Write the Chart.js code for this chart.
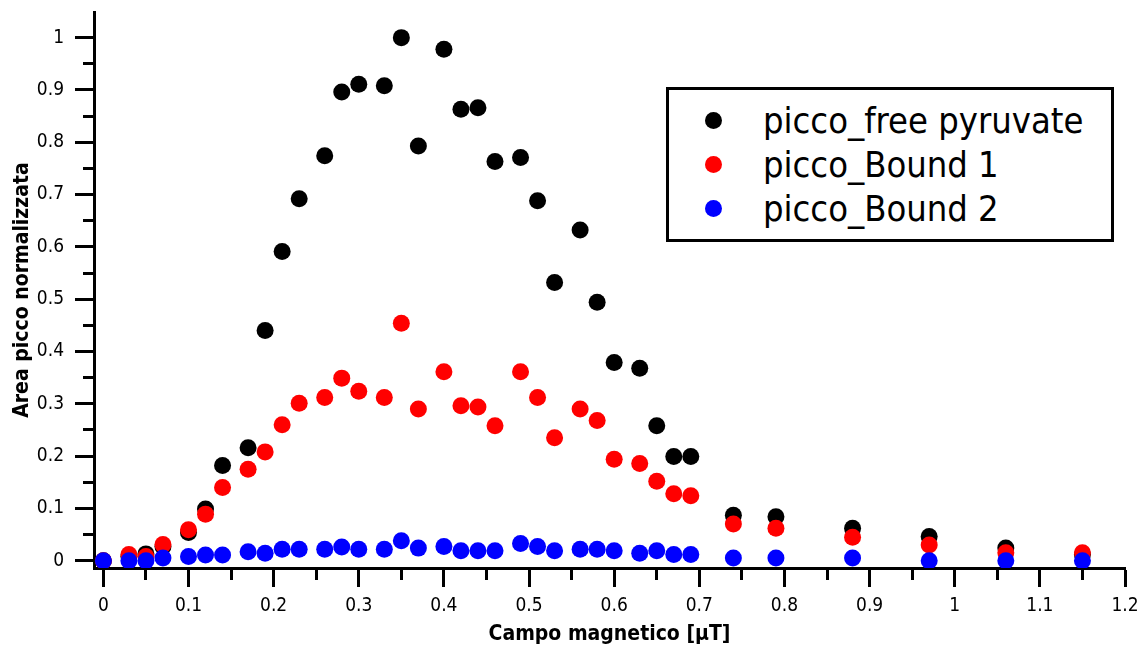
<!DOCTYPE html>
<html lang="it">
<head>
<meta charset="utf-8">
<title>Area picco normalizzata - Campo magnetico</title>
<script src="https://cdn.jsdelivr.net/npm/chart.js@4.4.1/dist/chart.umd.min.js"></script>
<style>
    html, body { margin: 0; padding: 0; background: #fff; }
    #wrap { position: relative; width: 1142px; height: 648px; overflow: hidden; }
    #chart { position: absolute; left: 0; top: 0; }
    /* legenda in HTML, con il riquadro nero come nell'originale */
    #legend {
        position: absolute;
        left: 666px;
        top: 87px;
        width: 442px;
        height: 140px;
        border: 3px solid #000;
        background: #fff;
        padding-top: 9px;
        box-sizing: content-box;
        font-family: 'DejaVu Sans Condensed', 'DejaVu Sans', sans-serif;
        font-size: 36px;
        color: #000;
    }
    .legend-row { position: relative; height: 44px; line-height: 44px; white-space: nowrap; }
    .legend-dot {
        position: absolute;
        left: 36px;
        top: 13px;
        width: 17px;
        height: 17px;
        border-radius: 50%;
    }
    .legend-text { position: absolute; left: 94px; top: 0; }
</style>
</head>
<body>
<div id="wrap">
    <canvas id="chart" width="1142" height="648"></canvas>
    <div id="legend"></div>
</div>
<script>
// --- Dati ---
const campo = [0, 0.03, 0.05, 0.07, 0.10, 0.12, 0.14, 0.17, 0.19, 0.21, 0.23, 0.26, 0.28, 0.30, 0.33, 0.35, 0.37,
    0.40, 0.42, 0.44, 0.46, 0.49, 0.51, 0.53, 0.56, 0.58, 0.60, 0.63, 0.65, 0.67, 0.69, 0.74, 0.79, 0.88, 0.97, 1.06, 1.15];

const freePyruvate = [0, 0.008, 0.013, 0.027, 0.054, 0.099, 0.182, 0.216, 0.44, 0.591, 0.692, 0.774, 0.896, 0.911, 0.908, 1.0, 0.793,
    0.978, 0.863, 0.866, 0.763, 0.771, 0.688, 0.532, 0.632, 0.494, 0.379, 0.368, 0.258, 0.199, 0.199, 0.087, 0.084, 0.062, 0.046, 0.024, 0.012];

const bound1 = [0, 0.012, 0.008, 0.031, 0.059, 0.089, 0.140, 0.175, 0.208, 0.260, 0.301, 0.312, 0.349, 0.324, 0.312, 0.454, 0.290,
    0.361, 0.296, 0.294, 0.258, 0.361, 0.312, 0.235, 0.290, 0.268, 0.194, 0.186, 0.152, 0.128, 0.124, 0.070, 0.062, 0.045, 0.030, 0.015, 0.015];

const bound2 = [0, 0, 0, 0.005, 0.008, 0.011, 0.011, 0.017, 0.014, 0.022, 0.022, 0.022, 0.026, 0.022, 0.022, 0.038, 0.024,
    0.027, 0.019, 0.019, 0.019, 0.033, 0.027, 0.019, 0.022, 0.022, 0.019, 0.014, 0.019, 0.012, 0.012, 0.005, 0.005, 0.005, 0, 0, 0];

const seriesNames = ['picco_free pyruvate', 'picco_Bound 1', 'picco_Bound 2'];
const seriesColors = ['#000000', '#ff0000', '#0000ff'];
const seriesValues = [freePyruvate, bound1, bound2];

// Assi: tacche ogni 0.05, etichette ogni 0.1
const tickStep = 0.05;
const xRange = [-0.011, 1.2];
const yRange = [-0.014, 1.049];

const fontFamily = "'DejaVu Sans Condensed', 'DejaVu Sans', sans-serif";

function isMajor(v) {
    return Math.abs(Math.round(v / tickStep)) % 2 === 0;
}
function tickLabel(v) {
    return isMajor(v) ? String(Math.round(v * 10) / 10) : '';
}

// --- Dataset ---
const datasets = seriesNames.map((name, i) => ({
    label: name,
    data: campo.map((x, j) => ({ x: x, y: seriesValues[i][j] })),
    backgroundColor: seriesColors[i],
    borderWidth: 0,
    pointRadius: 8.5,
    pointHoverRadius: 8.5,
    order: seriesNames.length - i // il blu sopra, il nero sotto
}));

function axisTicks(size) {
    return {
        stepSize: tickStep,
        includeBounds: false,
        autoSkip: false,
        maxRotation: 0,
        minRotation: 0,
        color: '#000',
        font: { family: fontFamily, size: size },
        callback: (v) => tickLabel(v)
    };
}

const ctx = document.getElementById('chart').getContext('2d');
new Chart(ctx, {
    type: 'scatter',
    data: { datasets: datasets },
    options: {
        responsive: false,
        animation: false,
        devicePixelRatio: 1,
        events: [],
        layout: { padding: { top: 12, right: 17, bottom: 0, left: 0 } },
        plugins: {
            legend: { display: false },
            tooltip: { enabled: false }
        },
        scales: {
            x: {
                type: 'linear',
                position: 'bottom',
                min: xRange[0],
                max: xRange[1],
                afterFit: (scale) => {
                    scale.height = 80;
                    scale.paddingLeft = 0;
                    scale.paddingRight = 0;
                },
                border: { display: true, color: '#000', width: 3 },
                grid: {
                    display: true,
                    drawOnChartArea: false,
                    drawTicks: true,
                    tickLength: 19,
                    tickWidth: 3,
                    tickColor: '#000',
                    // tacche minori piu' corte (si disegnano dall'asse verso l'esterno)
                    tickBorderDash: (c) => isMajor(c.tick.value) ? [] : [10, 100]
                },
                ticks: Object.assign(axisTicks(19), { padding: 8 }),
                title: {
                    display: true,
                    text: 'Campo magnetico [μT]',
                    color: '#000',
                    font: { family: fontFamily, size: 21, weight: 'bold' },
                    padding: { top: 0, bottom: 1 }
                }
            },
            y: {
                type: 'linear',
                position: 'left',
                min: yRange[0],
                max: yRange[1],
                afterFit: (scale) => {
                    scale.width = 94;
                    scale.paddingTop = 0;
                    scale.paddingBottom = 0;
                },
                border: { display: true, color: '#000', width: 3 },
                grid: {
                    display: true,
                    drawOnChartArea: false,
                    drawTicks: true,
                    tickLength: 19,
                    tickWidth: 3,
                    tickColor: '#000',
                    // qui la linea parte dall'esterno: salto i primi 8px
                    tickBorderDash: (c) => isMajor(c.tick.value) ? [] : [0, 8, 11, 100]
                },
                ticks: Object.assign(axisTicks(19), { padding: 11 }),
                title: {
                    display: true,
                    text: 'Area picco normalizzata',
                    color: '#000',
                    font: { family: fontFamily, size: 21, weight: 'bold' },
                    padding: { top: 10, bottom: 0 }
                }
            }
        }
    }
});

// --- Legenda ---
const legendEl = document.getElementById('legend');
seriesNames.forEach((name, i) => {
    const row = document.createElement('div');
    row.className = 'legend-row';
    const dot = document.createElement('span');
    dot.className = 'legend-dot';
    dot.style.backgroundColor = seriesColors[i];
    const text = document.createElement('span');
    text.className = 'legend-text';
    text.textContent = name;
    row.appendChild(dot);
    row.appendChild(text);
    legendEl.appendChild(row);
});
</script>
</body>
</html>
